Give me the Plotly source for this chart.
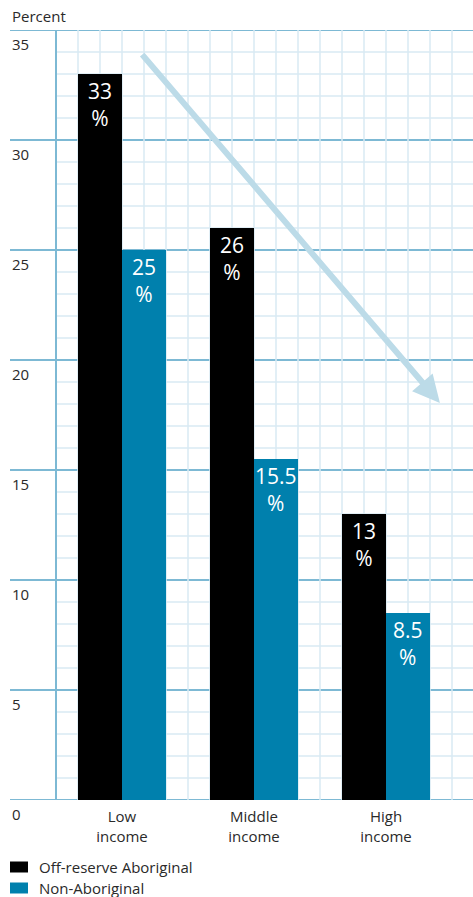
import plotly.graph_objects as go

# Share of people by income group (percent)
categories = ["Low<br>income", "Middle<br>income", "High<br>income"]
off_reserve = [33, 26, 13]
non_aboriginal = [25, 15.5, 8.5]
series_names = ["Off-reserve Aboriginal", "Non-Aboriginal"]
y_tick_labels = [0, 5, 10, 15, 20, 25, 30, 35]

BLACK = "#000000"
BLUE = "#0080ad"
MAJOR = "#7db9d4"
MINOR = "#d9eaf3"
ARROW = "#bcdbe8"
TEXT = "#2a2a2a"
FONT = "Open Sans"

# x axis measured in grid cells; groups sit 6 cells apart
positions = [3 + 6 * i for i in range(len(categories))]
Y_MAX = 35
PLOT_TOP, PLOT_BOTTOM, PLOT_W = 30, 800, 463

fig = go.Figure()
annotations = []
for vals, name, col, off in [(off_reserve, series_names[0], BLACK, -2),
                             (non_aboriginal, series_names[1], BLUE, 0)]:
    fig.add_trace(go.Bar(
        x=positions, y=vals, name=name,
        marker=dict(color=col, line=dict(width=0)),
        width=2, offset=off, showlegend=False,
    ))
    # value label just under each bar top: number above a percent sign
    for xp, v in zip(positions, vals):
        annotations.append(dict(
            xref="x", yref="y", x=xp + off + 1, y=v, text=f"{v:g}<br>%",
            showarrow=False, xanchor="center", yanchor="middle",
            yshift=-30, borderpad=0,
            font=dict(size=21, color="white", family=FONT)))

shapes = []
# light square grid to the right of the left rule
for gx in range(0, 19):
    shapes.append(dict(type="line", xref="x", yref="y", x0=gx, x1=gx,
                       y0=0, y1=Y_MAX, layer="below",
                       line=dict(color=MINOR, width=1.5)))
for gy in range(1, Y_MAX):
    if gy % 5:
        shapes.append(dict(type="line", xref="x", yref="y", x0=0, x1=20,
                           y0=gy, y1=gy, layer="below",
                           line=dict(color=MINOR, width=1.5)))
# darker rules every 5 percent, spanning the full width
for v in y_tick_labels:
    shapes.append(dict(type="line", xref="paper", yref="y", x0=0, x1=1,
                       y0=v, y1=v, layer="below",
                       line=dict(color=MAJOR, width=2)))
shapes.append(dict(type="line", xref="x", yref="y", x0=0, x1=0,
                   y0=0, y1=Y_MAX, layer="below",
                   line=dict(color=MAJOR, width=2)))

for v in y_tick_labels:
    annotations.append(dict(xref="paper", yref="y", x=0, y=v, text=str(v),
                            showarrow=False, xanchor="left", yanchor="top",
                            yshift=-2,
                            font=dict(size=15, color=TEXT, family=FONT)))
annotations.append(dict(xref="paper", yref="paper", x=0, y=1, text="Percent",
                        showarrow=False, xanchor="left", yanchor="bottom",
                        yshift=2, font=dict(size=15, color=TEXT, family=FONT)))

# downward trend arrow
annotations.append(dict(xref="x", yref="y", axref="x", ayref="y",
                        x=17.45, y=18.05, ax=3.86, ay=33.95, text="",
                        showarrow=True, arrowhead=2, arrowsize=0.9,
                        arrowwidth=6, arrowcolor=ARROW))


def paper_y(px):
    return (PLOT_BOTTOM - px) / (PLOT_BOTTOM - PLOT_TOP)


# legend drawn as swatches and labels
legend_colors = [BLACK, BLUE]
for i, (name, col) in enumerate(zip(series_names, legend_colors)):
    y_mid = 867 + 21 * i
    shapes.append(dict(type="rect", xref="paper", yref="paper",
                       x0=0, x1=18 / PLOT_W,
                       y0=paper_y(y_mid + 5.5), y1=paper_y(y_mid - 5.5),
                       line=dict(width=0), fillcolor=col))
    annotations.append(dict(xref="paper", yref="paper", x=27 / PLOT_W,
                            y=paper_y(y_mid), text=name,
                            showarrow=False, xanchor="left", yanchor="middle",
                            font=dict(size=15, color=TEXT, family=FONT)))

fig.update_layout(
    width=473, height=897,
    margin=dict(l=10, r=0, t=PLOT_TOP, b=897 - PLOT_BOTTOM),
    paper_bgcolor="white", plot_bgcolor="white",
    font=dict(family=FONT, color=TEXT),
    bargap=0, barmode="overlay",
    shapes=shapes, annotations=annotations,
    xaxis=dict(range=[-46 / 22, 417 / 22], showgrid=False, zeroline=False,
               tickvals=positions, ticktext=categories, ticks="",
               ticklabelstandoff=6,
               tickfont=dict(size=15, color=TEXT, family=FONT),
               fixedrange=True),
    yaxis=dict(range=[0, Y_MAX], showgrid=False, zeroline=False,
               showticklabels=False, fixedrange=True),
)

fig.write_html("out.html")
